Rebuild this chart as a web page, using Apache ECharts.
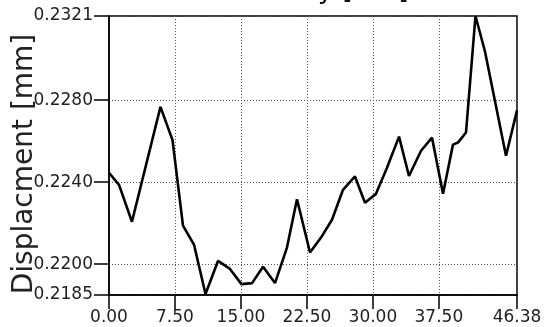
<!DOCTYPE html>
<html>
<head>
<meta charset="utf-8">
<script src="https://cdn.jsdelivr.net/npm/echarts@6/dist/echarts.min.js"></script>
<style>
html,body{margin:0;padding:0;background:#fff;}
#c{width:547px;height:327px;}
</style>
</head>
<body>
<div id="c"></div>
<script>
var titleText = "Time History [sec]";
var yName = "Displacment [mm]";
var xTickLabels = [0, 7.5, 15, 22.5, 30, 37.5, 46.38];
var yTickLabels = [0.2185, 0.2200, 0.2240, 0.2280, 0.2321];
var xs = [0, 1.14, 2.61, 5.85, 7.22, 8.41, 9.66, 10.97, 12.39, 13.75, 15.06, 16.26, 17.51, 18.87, 20.23, 21.37, 22.85, 24.10, 25.35, 26.60, 27.96, 29.10, 30.35, 31.60, 32.97, 34.10, 35.47, 36.72, 37.97, 39.10, 39.67, 40.58, 41.66, 42.74, 45.13, 46.38];
var ys = [0.22446, 0.22387, 0.22207, 0.22767, 0.22605, 0.22188, 0.22096, 0.21855, 0.22016, 0.21977, 0.21903, 0.21908, 0.21988, 0.21908, 0.22081, 0.22317, 0.22057, 0.22130, 0.22217, 0.22363, 0.22428, 0.22300, 0.22343, 0.22470, 0.22622, 0.22430, 0.22553, 0.22617, 0.22343, 0.22583, 0.22593, 0.22642, 0.2321, 0.23037, 0.22529, 0.22750];

var data = xs.map(function (x, i) { return [x, ys[i]]; });
var FONT = "DejaVu Sans";
var chart = echarts.init(document.getElementById('c'), null, {renderer: 'canvas'});
chart.setOption({
  animation: false,
  backgroundColor: '#fff',
  title: {
    text: titleText,
    left: 163,
    top: -23,
    padding: 0,
    textStyle: {fontFamily: FONT, fontSize: 27, fontWeight: 'normal', color: '#111'}
  },
  graphic: [{
    type: 'text',
    x: 25,
    y: 164,
    rotation: Math.PI / 2,
    style: {
      text: yName,
      font: '28px "DejaVu Sans"',
      fill: '#222',
      align: 'center',
      verticalAlign: 'middle'
    }
  }],
  grid: {
    left: 109, right: 30, top: 16, bottom: 32,
    show: true, borderColor: '#000', borderWidth: 1.5, backgroundColor: 'transparent'
  },
  xAxis: {
    type: 'value',
    min: 0,
    max: 46.38,
    interval: 7.5,
    axisLine: {show: true, onZero: false, lineStyle: {color: '#000', width: 1.5}},
    axisTick: {show: true, inside: false, length: 14, customValues: xTickLabels, lineStyle: {color: '#000', width: 1.5}},
    axisLabel: {
      customValues: xTickLabels,
      margin: 14,
      fontFamily: FONT, fontSize: 17, color: '#222',
      formatter: function (v) { return v.toFixed(2); }
    },
    splitLine: {show: true, lineStyle: {color: '#555', width: 1, type: [1, 2]}}
  },
  yAxis: {
    type: 'value',
    min: 0.2185,
    max: 0.2321,
    interval: 0.004,
    axisLine: {show: true, onZero: false, lineStyle: {color: '#000', width: 1.5}},
    axisTick: {show: true, inside: false, length: 15, customValues: yTickLabels, lineStyle: {color: '#000', width: 1.5}},
    axisLabel: {
      customValues: yTickLabels,
      margin: 16,
      fontFamily: FONT, fontSize: 17, color: '#222',
      formatter: function (v) { return v.toFixed(4); }
    },
    splitLine: {show: true, lineStyle: {color: '#555', width: 1, type: [1, 2]}}
  },
  series: [{
    type: 'line',
    data: data,
    symbol: 'none',
    lineStyle: {color: '#000', width: 2.6},
    z: 5
  }]
});
</script>
</body>
</html>
